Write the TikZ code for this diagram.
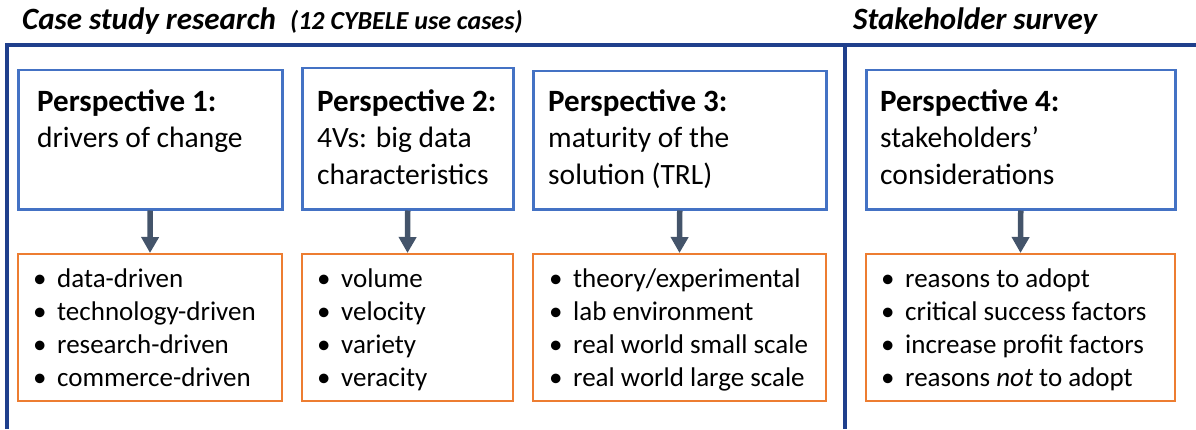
\documentclass[tikz,border=0pt]{standalone}
\usepackage{fontspec}
\setmainfont{Carlito}
\usetikzlibrary{arrows.meta}
\definecolor{framecol}{HTML}{1F3F8C}
\definecolor{boxblue}{HTML}{4472C4}
\definecolor{boxorange}{HTML}{ED7D31}
\definecolor{arrowcol}{HTML}{44546A}
\tikzset{
  x=1pt,y=1pt,
  bluebox/.style={draw=boxblue,line width=2.5pt,inner sep=0pt,anchor=north west},
  orangebox/.style={draw=boxorange,line width=2pt,inner sep=0pt,anchor=north west},
  headbold/.style={anchor=base west,inner sep=0pt,font=\fontsize{31}{36}\selectfont\bfseries},
  headtxt/.style={anchor=base west,inner sep=0pt,font=\fontsize{29.5}{36}\selectfont},
  listtxt/.style={anchor=base west,inner sep=0pt,font=\fontsize{27}{33}\selectfont},
  titletxt/.style={anchor=base west,inner sep=0pt,font=\fontsize{31}{34}\selectfont\bfseries\itshape},
  subtitletxt/.style={anchor=base west,inner sep=0pt,font=\fontsize{26}{30}\selectfont\bfseries\itshape},
  framestyle/.style={draw=framecol,line width=4pt},
  bigarrow/.style={draw=arrowcol,line width=5.5pt,-{Triangle[length=16pt,width=17pt]}}
}
\newcommand{\blt}{\makebox[24pt][l]{\textbullet}}
\begin{document}
\begin{tikzpicture}
\useasboundingbox (0,0) rectangle (1196,429);
% frame
\coordinate (fbl) at (7,0);
\coordinate (ftl) at (7,384);
\coordinate (ftr) at (1196,384);
\coordinate (dtop) at (845,384);
\coordinate (dbot) at (845,0);
\draw[framestyle] (fbl) -- (ftl) -- (ftr);
\draw[framestyle] (dtop) -- (dbot);
% titles
\node[titletxt] (t1) at (22,399) {Case study research};
\node[subtitletxt] (t2) at (290,399) {(12 CYBELE use cases)};
\node[titletxt] (t3) at (853,399) {Stakeholder survey};
% blue boxes
\node[bluebox,minimum width=264pt,minimum height=139pt] (b1) at (17,360) {};
\node[bluebox,minimum width=211pt,minimum height=141pt] (b2) at (301,362) {};
\node[bluebox,minimum width=293pt,minimum height=138pt] (b3) at (532,359) {};
\node[bluebox,minimum width=309pt,minimum height=139pt] (b4) at (865,360) {};
% orange boxes
\node[orangebox,minimum width=264pt,minimum height=147pt] (o1) at (17,176) {};
\node[orangebox,minimum width=211pt,minimum height=147pt] (o2) at (301,176) {};
\node[orangebox,minimum width=293pt,minimum height=147pt] (o3) at (532,176) {};
\node[orangebox,minimum width=309pt,minimum height=147pt] (o4) at (865,176) {};
% arrows
\draw[bigarrow] (b1.south) -- (o1.north);
\draw[bigarrow] (b2.south) -- (o2.north);
\draw[bigarrow] (b3.south) -- (o3.north);
\draw[bigarrow] (b4.south) -- (o4.north);
% headings
\node[headbold] (h1a) at (37,317) {Perspective 1:};
\node[headtxt]  (h1b) at (37,281) {drivers of change};
\node[headbold] (h2a) at (317,317) {Perspective 2:};
\node[headtxt]  (h2b) at (317,281) {4Vs: big data};
\node[headtxt]  (h2c) at (317,244) {characteristics};
\node[headbold] (h3a) at (548,317) {Perspective 3:};
\node[headtxt]  (h3b) at (548,281) {maturity of the};
\node[headtxt]  (h3c) at (548,244) {solution (TRL)};
\node[headbold] (h4a) at (880,317) {Perspective 4:};
\node[headtxt]  (h4b) at (880,281) {stakeholders’};
\node[headtxt]  (h4c) at (880,244) {considerations};
% lists
\node[listtxt] (l1a) at (33,142) {\blt data-driven};
\node[listtxt] (l1b) at (33,109) {\blt technology-driven};
\node[listtxt] (l1c) at (33,76)  {\blt research-driven};
\node[listtxt] (l1d) at (33,43)  {\blt commerce-driven};
\node[listtxt] (l2a) at (317,142) {\blt volume};
\node[listtxt] (l2b) at (317,109) {\blt velocity};
\node[listtxt] (l2c) at (317,76)  {\blt variety};
\node[listtxt] (l2d) at (317,43)  {\blt veracity};
\node[listtxt] (l3a) at (549,142) {\blt theory/experimental};
\node[listtxt] (l3b) at (549,109) {\blt lab environment};
\node[listtxt] (l3c) at (549,76)  {\blt real world small scale};
\node[listtxt] (l3d) at (549,43)  {\blt real world large scale};
\node[listtxt] (l4a) at (881,142) {\blt reasons to adopt};
\node[listtxt] (l4b) at (881,109) {\blt critical success factors};
\node[listtxt] (l4c) at (881,76)  {\blt increase profit factors};
\node[listtxt] (l4d) at (881,43)  {\blt reasons \textit{not} to adopt};
\end{tikzpicture}
\end{document}
